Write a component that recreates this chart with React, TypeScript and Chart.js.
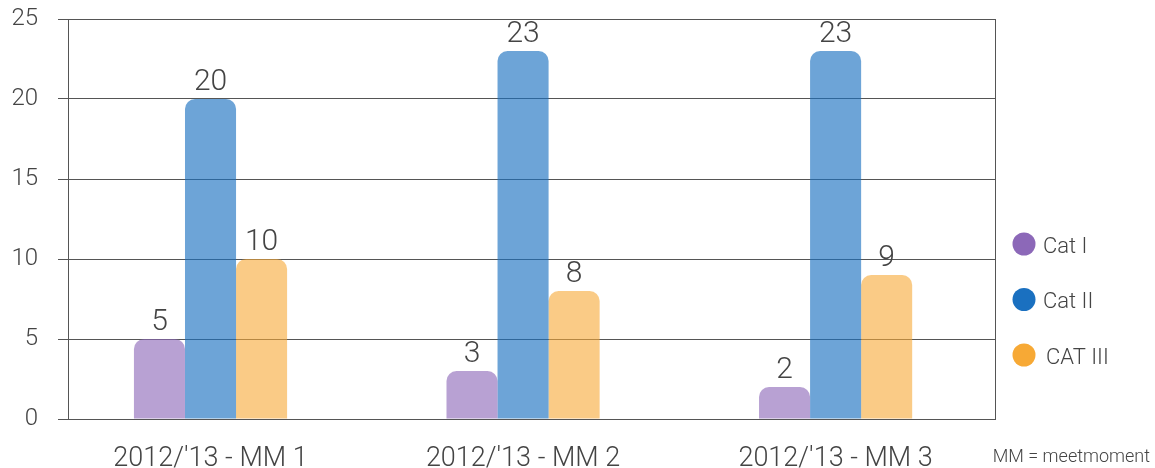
import React, { useEffect, useRef } from "react";
import { Chart, registerables } from "chart.js";

Chart.register(...registerables);

const categories = ["2012/'13 - MM 1", "2012/'13 - MM 2", "2012/'13 - MM 3"];
const seriesNames = ["Cat I", "Cat II", "CAT III"];
const catI = [5, 3, 2];
const catII = [20, 23, 23];
const catIII = [10, 8, 9];
const yTicks = [0, 5, 10, 15, 20, 25];
const note = "MM = meetmoment";

const solidColors = ["#8c68b8", "#1a70c0", "#f7a935"];
const barColors = [
  "rgba(140,104,184,0.62)",
  "rgba(26,112,192,0.64)",
  "rgba(247,169,53,0.6)",
];

const FONT = "Roboto, 'Liberation Sans', sans-serif";
const TEXT = "#444";
const LINE = "#555";

const valueLabels = {
  id: "valueLabels",
  afterDatasetsDraw(chart: any) {
    const ctx = chart.ctx;
    ctx.save();
    ctx.font = `300 30px ${FONT}`;
    ctx.fillStyle = TEXT;
    ctx.textAlign = "center";
    ctx.textBaseline = "alphabetic";
    chart.data.datasets.forEach((ds: any, di: number) => {
      const meta = chart.getDatasetMeta(di);
      meta.data.forEach((el: any, i: number) => {
        const v = ds.data[i].y;
        ctx.fillText(String(v), el.x, el.y - 9);
      });
    });
    ctx.restore();
  },
};

const sideLegend = {
  id: "sideLegend",
  afterDraw(chart: any) {
    const ctx = chart.ctx;
    const area = chart.chartArea;
    ctx.save();
    const cx = area.right + 29;
    const y0 = area.top + 225;
    const step = 55.5;
    chart.data.datasets.forEach((ds: any, i: number) => {
      const y = y0 + i * step;
      ctx.beginPath();
      ctx.arc(cx, y, 11.5, 0, Math.PI * 2);
      ctx.fillStyle = ds.legendColor;
      ctx.fill();
      ctx.font = `300 22px ${FONT}`;
      ctx.fillStyle = TEXT;
      ctx.textAlign = "left";
      ctx.textBaseline = "alphabetic";
      ctx.fillText(ds.label, cx + 19 + (i === 2 ? 3 : 0), y + 8.5);
    });
    ctx.font = `300 18px ${FONT}`;
    ctx.fillStyle = TEXT;
    ctx.textAlign = "right";
    ctx.fillText(note, chart.width - 5, chart.height - 6);
    ctx.restore();
  },
};

export default function App() {
  const ref = useRef<HTMLCanvasElement | null>(null);

  useEffect(() => {
    document.body.style.margin = "0";
    const series = [catI, catII, catIII];
    const chart = new Chart(ref.current as HTMLCanvasElement, {
      type: "bar",
      data: {
        datasets: series.map((s, di) => ({
          label: seriesNames[di],
          data: s.map((v, i) => ({ x: i, y: v })),
          backgroundColor: barColors[di],
          borderWidth: 0,
          borderRadius: 10,
          borderSkipped: "bottom",
          categoryPercentage: 0.49,
          barPercentage: 1.0,
          legendColor: solidColors[di],
        })) as any,
      },
      options: {
        animation: false,
        responsive: false,
        maintainAspectRatio: false,
        layout: { padding: { top: 19, right: 160, left: 0, bottom: 0 } },
        plugins: { legend: { display: false }, tooltip: { enabled: false } },
        scales: {
          x: {
            type: "linear",
            offset: false,
            min: -0.456,
            max: 2.51,
            afterBuildTicks: (axis: any) => {
              axis.ticks = categories.map((_, i) => ({ value: i }));
            },
            afterFit: (axis: any) => {
              axis.height = 49;
              axis.paddingLeft = 0;
              axis.paddingRight = 0;
            },
            grid: { display: false, drawTicks: false, offset: false },
            border: { display: true, color: LINE, width: 1 },
            ticks: {
              callback: (v: any) => categories[v] ?? "",
              font: { family: FONT, size: 27, weight: "300" as any },
              color: TEXT,
              padding: 24,
              maxRotation: 0,
              autoSkip: false,
            },
          },
          y: {
            min: 0,
            max: 25,
            afterBuildTicks: (axis: any) => {
              axis.ticks = yTicks.map((v) => ({ value: v }));
            },
            afterFit: (axis: any) => {
              axis.width = 68;
              axis.paddingTop = 0;
              axis.paddingBottom = 0;
            },
            grid: { color: LINE, lineWidth: 1, tickLength: 10, drawTicks: true },
            border: { display: true, color: LINE, width: 1 },
            ticks: {
              font: { family: FONT, size: 24, weight: "300" as any },
              color: TEXT,
              padding: 20,
            },
          },
          y2: {
            position: "right",
            min: 0,
            max: 25,
            afterFit: (axis: any) => {
              axis.width = 0;
              axis.paddingTop = 0;
              axis.paddingBottom = 0;
            },
            grid: { display: false, drawTicks: false },
            border: { display: true, color: LINE, width: 1 },
            ticks: { display: false },
          },
        },
      },
      plugins: [valueLabels, sideLegend],
    });
    return () => chart.destroy();
  }, []);

  return (
    <div style={{ position: "relative", width: 1155, height: 468 }}>
      <canvas ref={ref} width={1155} height={468} style={{ display: "block" }} />
    </div>
  );
}
